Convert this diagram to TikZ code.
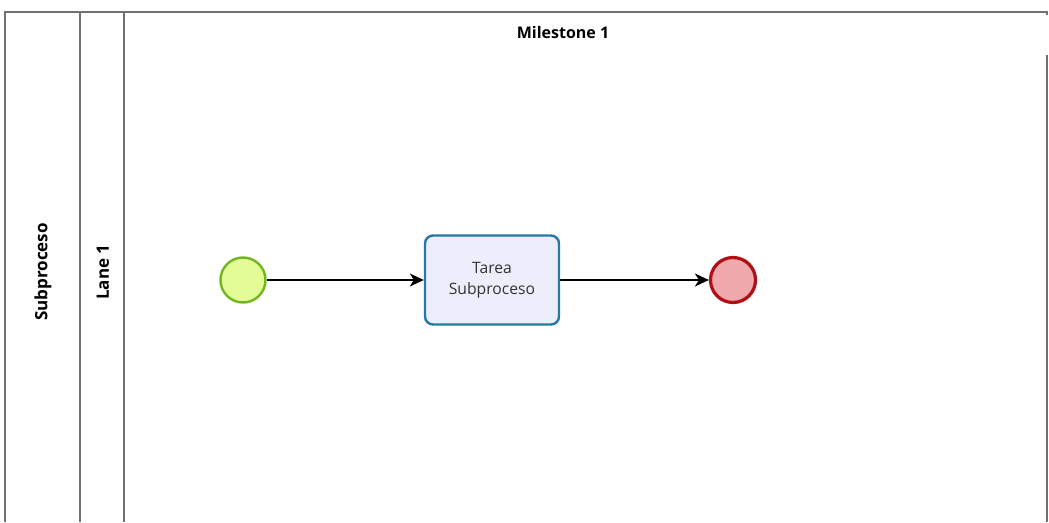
\documentclass[tikz,border=0pt]{standalone}
\usepackage{fontspec}
\setmainfont{Open Sans}
\usetikzlibrary{arrows.meta}
\definecolor{laneline}{HTML}{707070}
\definecolor{startfill}{HTML}{E4FC96}
\definecolor{startdraw}{HTML}{72B51F}
\definecolor{taskfill}{HTML}{EDEEFC}
\definecolor{taskdraw}{HTML}{2478A8}
\definecolor{endfill}{HTML}{EFA8AC}
\definecolor{enddraw}{HTML}{B00E14}
\tikzset{
  lane/.style={draw=laneline, line width=1.5pt},
  lanetitle/.style={font=\bfseries\fontsize{17}{20}\selectfont, inner sep=0pt},
  mstitle/.style={font=\bfseries\fontsize{16}{19}\selectfont, inner sep=0pt},
  startev/.style={circle, draw=startdraw, fill=startfill, line width=2.4pt, minimum size=45pt, inner sep=0pt},
  endev/.style={circle, draw=enddraw, fill=endfill, line width=3.2pt, minimum size=45pt, inner sep=0pt},
  taskbox/.style={rounded corners=8pt, draw=taskdraw, fill=taskfill, line width=2.4pt, minimum width=134pt, minimum height=89pt, align=center, font=\fontsize{15.7}{21}\selectfont, text=black!80},
  flow/.style={line width=1.4pt, -{Stealth[length=14pt,width=13pt,inset=4pt]}}
}
\begin{document}
\begin{tikzpicture}[x=1pt,y=-1pt]
\useasboundingbox (0,0) rectangle (1049,522);
% pool & lanes
\coordinate (tl) at (5,12);
\coordinate (tr) at (1047,12);
\draw[lane] (5,522) -- (tl) -- (tr) -- (1047,15);
\draw[lane] (1047,55) -- (1047,522);
\draw[lane] (80,12) -- (80,522);
\draw[lane] (124,12) -- (124,522);
\node[lanetitle, rotate=90] (pool) at (43,272) {Subproceso};
\node[lanetitle, rotate=90] (lane) at (103,272) {Lane 1};
\node[mstitle] (ms) at (563,32) {Milestone 1};
% elements
\node[startev] (start) at (243,280) {};
\node[taskbox] (task) at (492,280) {Tarea\\Subproceso};
\node[endev] (end) at (733,280) {};
\draw[flow] (start) -- (task);
\draw[flow] (task) -- (end);
\end{tikzpicture}
\end{document}
